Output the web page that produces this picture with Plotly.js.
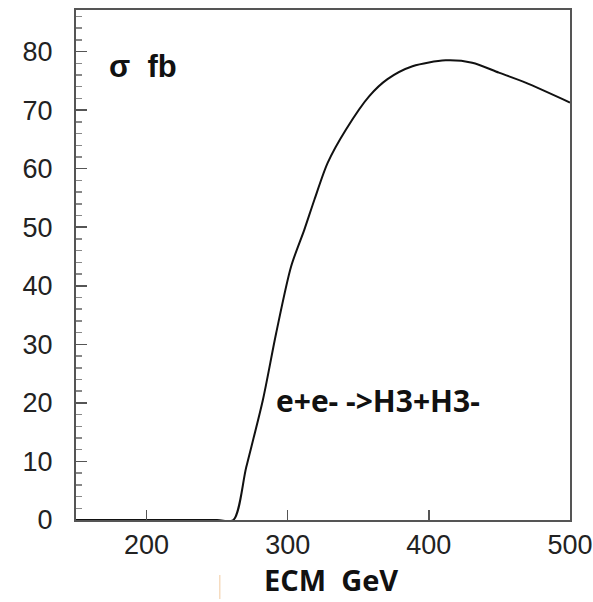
<!DOCTYPE html>
<html>
<head>
<meta charset="utf-8">
<script src="https://cdn.plot.ly/plotly-3.0.1.min.js"></script>
<style>html,body{margin:0;padding:0;background:#fff;}#chart{width:593px;height:602px;}</style>
</head>
<body>
<div id="chart"></div>
<script>
// Cross section sigma (fb) vs centre-of-mass energy (GeV)
const ecm   = [150, 200, 250, 261.5, 270.6, 282.4, 291.8, 302.4, 311.8, 318.9, 328.3, 341.3, 357.8, 370.7, 388.4, 411.9, 430.7, 449.6, 468.5, 500];
const sigma = [0,   0,   0,   0,     9.0,   20.5,  31.9,  43.3,  49.6,  54.7,  61.0,  66.7,  72.4,  75.3,  77.5,  78.5,  78.1,  76.4,  74.7,  71.3];
const xTicks = [200, 300, 400, 500];
const yTicks = [0, 10, 20, 30, 40, 50, 60, 70, 80];

const trace = {
  x: ecm, y: sigma, type: 'scatter', mode: 'lines',
  line: {color: '#111', width: 2, shape: 'spline', smoothing: 0.8},
  hoverinfo: 'skip'
};

const axisCommon = {
  showgrid: false, zeroline: false, showline: true, mirror: true,
  linecolor: '#555', linewidth: 2,
  ticks: 'inside', tickcolor: '#555', tickwidth: 1.5,
  ticklabeloverflow: 'allow',
  tickfont: {family: 'Liberation Sans, Arial, sans-serif', size: 27, color: '#222'}
};

const layout = {
  width: 593, height: 602,
  margin: {l: 76, r: 23, t: 10, b: 82},
  paper_bgcolor: '#fff', plot_bgcolor: '#fff',
  showlegend: false,
  xaxis: Object.assign({}, axisCommon, {
    range: [150, 500], tickvals: xTicks, ticktext: xTicks.map(String),
    ticklen: 10
  }),
  yaxis: Object.assign({}, axisCommon, {
    range: [0, 87.1], tickvals: yTicks, ticktext: yTicks.map(String),
    ticklen: 11, ticklabelstandoff: 16,
    minor: {dtick: 2, ticks: 'inside', ticklen: 6, tickcolor: '#888', tickwidth: 1.5}
  }),
  annotations: [
    {xref: 'paper', yref: 'paper', x: 0.062, y: 0.89, xanchor: 'left', yanchor: 'middle',
     text: '<b>σ  fb</b>', showarrow: false,
     font: {family: 'Liberation Sans, Arial, sans-serif', size: 31, color: '#111'}},
    {xref: 'paper', yref: 'paper', x: 0.40, y: 0.235, xanchor: 'left', yanchor: 'middle',
     text: '<b>e+e- ->H3+H3-</b>', showarrow: false,
     font: {family: 'Open Sans, sans-serif', size: 30, color: '#111'}},
    {xref: 'paper', yref: 'paper', x: 0.516, y: -0.158, xanchor: 'center', yanchor: 'bottom',
     text: '<b>ECM  GeV</b>', showarrow: false,
     font: {family: 'Open Sans, sans-serif', size: 29, color: '#111'}}
  ],
  shapes: [
    {type: 'line', xref: 'paper', yref: 'paper', x0: 0.291, x1: 0.291, y0: -0.108, y1: -0.155,
     line: {color: '#f6dcc0', width: 1.5}}
  ]
};

Plotly.newPlot('chart', [trace], layout, {staticPlot: true, displayModeBar: false});
</script>
</body>
</html>
